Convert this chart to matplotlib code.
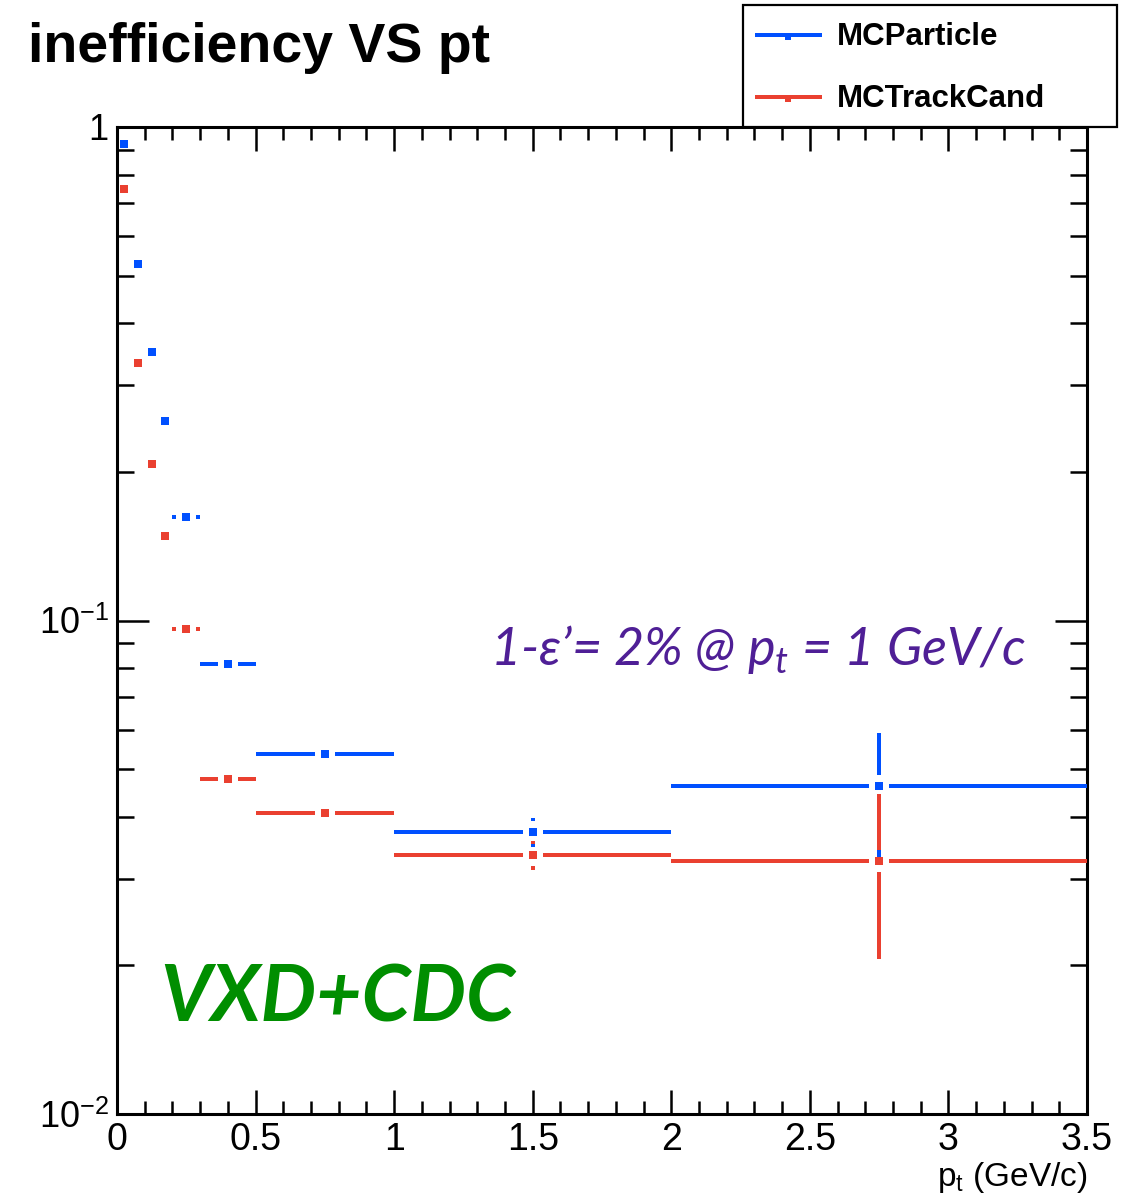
import numpy as np
import matplotlib
matplotlib.use("Agg")
import matplotlib.pyplot as plt
from matplotlib.lines import Line2D
from matplotlib.patches import Rectangle
from matplotlib.ticker import FixedLocator, FixedFormatter, MultipleLocator, NullFormatter

plt.rcParams["font.family"] = ["Liberation Sans", "DejaVu Sans"]
plt.rcParams["mathtext.fontset"] = "custom"
plt.rcParams["mathtext.rm"] = "Liberation Sans"
plt.rcParams["mathtext.it"] = "Lato:italic"

# pt bins (GeV/c)
bin_edges = [0.0, 0.05, 0.1, 0.15, 0.2, 0.3, 0.5, 1.0, 2.0, 3.5]

# inefficiency per bin and its uncertainty
mcparticle = [0.924, 0.528, 0.350, 0.254, 0.162, 0.0816, 0.0536, 0.0373, 0.0462]
mcparticle_err = [0.02, 0.02, 0.015, 0.011, 0.006, 0.003, 0.0015, 0.0025, 0.013]
mctrackcand = [0.749, 0.332, 0.208, 0.148, 0.0961, 0.0477, 0.0407, 0.0335, 0.0326]
mctrackcand_err = [0.02, 0.012, 0.008, 0.006, 0.004, 0.002, 0.0013, 0.0023, 0.012]

series_names = ["MCParticle", "MCTrackCand"]
series_colors = ["#0050ff", "#ea4030"]

x_ticks = [0, 0.5, 1, 1.5, 2, 2.5, 3, 3.5]
x_ticklabels = ["0", "0.5", "1", "1.5", "2", "2.5", "3", "3.5"]
y_ticks = [0.01, 0.1, 1]
y_ticklabels = [r"$10^{-2}$", r"$10^{-1}$", "1"]

W, H, DPI = 1135, 1201, 100
fig = plt.figure(figsize=(W / DPI, H / DPI), dpi=DPI)
ax_l, ax_r, ax_t, ax_b = 117, 1087, 127, 1114
ax = fig.add_axes([ax_l / W, 1 - ax_b / H, (ax_r - ax_l) / W, (ax_b - ax_t) / H])
ax.set_xlim(0, 3.5)
ax.set_yscale("log")
ax.set_ylim(0.01, 1)

# pixel -> data conversions for the gaps ROOT leaves around each marker
px_x = 3.5 / (ax_r - ax_l)
px_logy = 2.0 / (ax_b - ax_t)
gap_x = 10 * px_x
gap_y = 11 * px_logy
lw = 4 * 72 / DPI
ms = 8 * 72 / DPI


def draw_hist(vals, errs, color, z):
    edges = np.array(bin_edges)
    xc = 0.5 * (edges[:-1] + edges[1:])
    for lo, hi, x, y, e in zip(edges[:-1], edges[1:], xc, vals, errs):
        if x - gap_x > lo:
            ax.plot([lo, x - gap_x], [y, y], color=color, lw=lw, solid_capstyle="butt", zorder=z)
        if x + gap_x < hi:
            ax.plot([x + gap_x, hi], [y, y], color=color, lw=lw, solid_capstyle="butt", zorder=z)
        y_up_gap = y * 10 ** gap_y
        y_dn_gap = y * 10 ** (-gap_y)
        if y + e > y_up_gap:
            ax.plot([x, x], [y_up_gap, y + e], color=color, lw=lw, solid_capstyle="butt", zorder=z)
        if y - e < y_dn_gap:
            ax.plot([x, x], [y - e, y_dn_gap], color=color, lw=lw, solid_capstyle="butt", zorder=z)
    ax.plot(xc, vals, "s", color=color, ms=ms, mew=0, zorder=z + 0.5)


draw_hist(mcparticle, mcparticle_err, series_colors[0], 3)
draw_hist(mctrackcand, mctrackcand_err, series_colors[1], 4)

# axes styling, ROOT-like ticks on all four sides
for s in ax.spines.values():
    s.set_linewidth(2.2)
ax.xaxis.set_major_locator(FixedLocator(x_ticks))
ax.xaxis.set_major_formatter(FixedFormatter(x_ticklabels))
ax.xaxis.set_minor_locator(MultipleLocator(0.1))
ax.yaxis.set_major_locator(FixedLocator(y_ticks))
ax.yaxis.set_major_formatter(FixedFormatter(y_ticklabels))
ax.yaxis.set_minor_locator(FixedLocator(
    [m * 10.0 ** k for k in (-2, -1) for m in range(2, 10)]))
ax.yaxis.set_minor_formatter(NullFormatter())
ax.tick_params(axis="both", which="both", direction="in", top=True, right=True,
               width=1.8, colors="black")
ax.tick_params(axis="x", which="major", length=24 * 0.72, labelsize=27, pad=6)
ax.tick_params(axis="x", which="minor", length=13 * 0.72)
ax.tick_params(axis="y", which="major", length=32 * 0.72, labelsize=26, pad=6)
ax.tick_params(axis="y", which="minor", length=17 * 0.72)

ax.text(1.0, -0.047, r"p$_{\rm t}$ (GeV/c)", transform=ax.transAxes, ha="right",
        va="top", fontsize=24)

# title
fig.text(28 / W, 1 - 62 / H, "inefficiency VS pt", fontsize=40, fontweight="bold",
         ha="left", va="baseline")

# legend box
fig.patches.append(Rectangle((743 / W, 1 - 127 / H), (1117 - 743) / W, (127 - 5) / H,
                             transform=fig.transFigure, facecolor="white",
                             edgecolor="black", lw=1.6, zorder=10))
for name, color, ypx in zip(series_names, series_colors, [35, 97]):
    yf = 1 - ypx / H
    fig.add_artist(Line2D([755 / W, 822 / W], [yf, yf], color=color, lw=lw,
                          solid_capstyle="butt", zorder=11))
    fig.add_artist(Line2D([788 / W], [yf - 2 / H], marker="s", color=color, ms=4,
                          mew=0, zorder=11))
    fig.text(837 / W, 1 - (ypx + 2) / H, name, fontsize=22.5, fontweight="bold",
             ha="left", va="center", zorder=12)

# annotations
fig.text(490 / W, 1 - 665 / H, "1-ε’= 2% @ $p_t$ = 1 GeV/c", fontsize=37.5,
         family=["Lato", "DejaVu Sans"], style="italic", color="#4f1f96",
         ha="left", va="baseline")
fig.text(160 / W, 1 - 1022 / H, "VXD+CDC", fontsize=56.5,
         family=["Lato", "DejaVu Sans"], style="italic", fontweight="bold",
         color="#008e00", ha="left", va="baseline")

fig.savefig("out.png", dpi=DPI, facecolor="white")
